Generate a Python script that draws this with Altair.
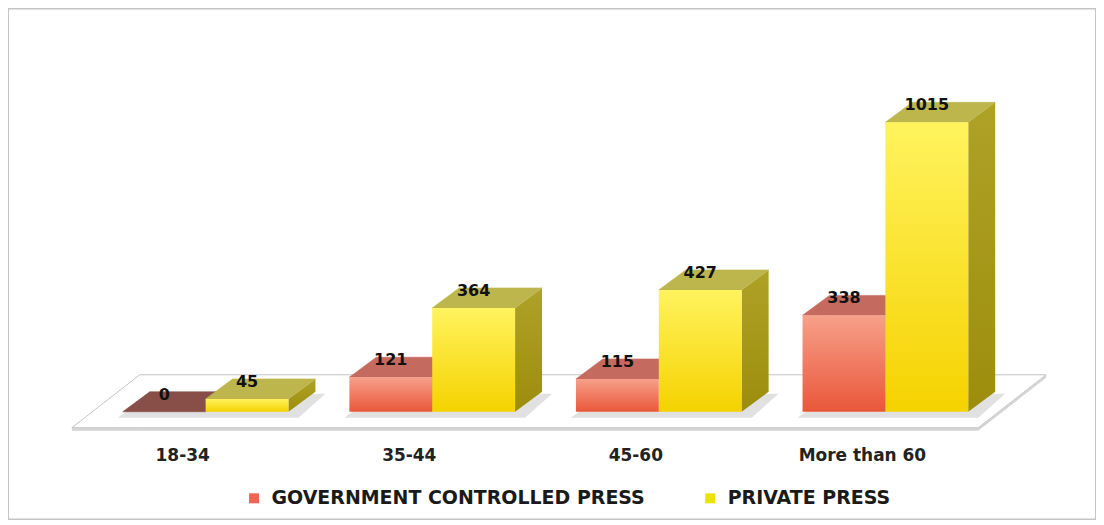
import altair as alt
import pandas as pd

# ---------------- data ----------------
categories = ["18-34", "35-44", "45-60", "More than 60"]
series = ["GOVERNMENT CONTROLLED PRESS", "PRIVATE PRESS"]
government = [0, 121, 115, 338]
private = [45, 364, 427, 1015]

# ---------------- layout (pixels) ----------------
W, H = 1090, 512
SLOT = 227.0      # px per category slot
X0 = 84.5         # px of left edge of slot 0
BASE = 404.0      # px of value 0
K = 0.2857        # px per value unit
BAR = 83.0        # bar width px
DPX, DPY = 27.0, 20.0   # 3D depth offset px

BWU = BAR / SLOT
DXU = DPX / SLOT
DYV = DPY / K


def px_x(px):
    return (px - X0) / SLOT


def px_y(py):
    return (BASE - py) / K


XS = alt.Scale(domain=[0, len(categories)], range=[X0, X0 + SLOT * len(categories)], nice=False, zero=False)
YS = alt.Scale(domain=[0, BASE / K], range=[BASE, 0], nice=False, zero=False)

# ---------------- tables ----------------
bars, tops, sides, shadows = [], [], [], []
for i, cat in enumerate(categories):
    c = i + 0.5
    for s_idx, (name, vals) in enumerate(zip(series, [government, private])):
        v = vals[i]
        xl = c - BWU if s_idx == 0 else c
        xr = c if s_idx == 0 else c + BWU
        bid = f"{i}-{s_idx}"
        bars.append(dict(bar=bid, series=name, cat=cat, value=v, zero=0,
                         xl=xl, xr=xr, xc=(xl + xr) / 2))
        if s_idx == 0:
            tf = "#874f48" if v == 0 else "#c56a5e"
        else:
            tf = "#bdb64c"
        for (xx, y1, y2) in [(xl, v, v), (xl + DXU, v + DYV, v),
                             (xr, v + DYV, v), (xr + DXU, v + DYV, v + DYV)]:
            tops.append(dict(bar=bid, series=name, x=xx, y=y1, y2=y2, fill=tf))
        for (xx, y1, y2) in [(xr, v, 0), (xr + DXU, v + DYV, DYV)]:
            sides.append(dict(bar=bid, series=name, x=xx, y=y1, y2=y2))
    # soft shadow under the group
    gl, gr = c - BWU, c + BWU
    o = 5.0 / SLOT
    lo = -6.0 / K
    hi = DYV - 2.0 / K
    for (xx, y1, y2) in [(gl - o, lo, lo), (gl + DXU, hi, lo),
                         (gr + 2 * o, hi, lo), (gr + DXU + 2 * o, hi, hi)]:
        shadows.append(dict(g=i, x=xx, y=y1, y2=y2))

bars_df = pd.DataFrame(bars)
tops_df = pd.DataFrame(tops)
sides_df = pd.DataFrame(sides)
shadow_df = pd.DataFrame(shadows)
cats_df = pd.DataFrame(dict(cat=categories, xc=[i + 0.5 for i in range(len(categories))]))

floor_df = pd.DataFrame(dict(
    x=[px_x(64), px_x(132), px_x(972), px_x(1040)],
    y=[px_y(420), px_y(367), px_y(367), px_y(367)],
    y2=[px_y(420), px_y(420), px_y(420), px_y(367)],
))
floor_edge_df = pd.DataFrame(dict(
    x=[px_x(64), px_x(972), px_x(1040)],
    y=[px_y(420), px_y(420), px_y(367)],
    y2=[px_y(423), px_y(423), px_y(370)],
))


def grad(c1, c2):
    return alt.Gradient(gradient="linear", x1=0, x2=0, y1=0, y2=1,
                        stops=[alt.GradientStop(color=c1, offset=0),
                               alt.GradientStop(color=c2, offset=1)])


def area_enc():
    return dict(x=alt.X("x:Q", scale=XS, axis=None),
                y=alt.Y("y:Q", scale=YS, axis=None, stack=None),
                y2="y2:Q")


floor = alt.Chart(floor_df).mark_area(fill="#ffffff", stroke="#c2c2c2", strokeWidth=1).encode(**area_enc())
floor_edge = alt.Chart(floor_edge_df).mark_area(fill="#d4d4d4").encode(**area_enc())
shadow = alt.Chart(shadow_df).mark_area(fill="#bcbcbc", opacity=0.45).encode(detail="g:N", **area_enc())


def faces(name, side_grad, front_grad):
    side = alt.Chart(sides_df[sides_df.series == name]).mark_area(
        fill=side_grad).encode(detail="bar:N", **area_enc())
    top = alt.Chart(tops_df[tops_df.series == name]).mark_area(strokeWidth=0.6).encode(
        detail="bar:N",
        fill=alt.Fill("fill:N", scale=None),
        stroke=alt.Stroke("fill:N", scale=None),
        **area_enc())
    front = alt.Chart(bars_df[bars_df.series == name]).mark_rect(fill=front_grad).encode(
        x=alt.X("xl:Q", scale=XS, axis=None), x2="xr:Q",
        y=alt.Y("value:Q", scale=YS, axis=None), y2="zero:Q")
    return [side, top, front]


gov_layers = faces(series[0], grad("#b8645a", "#a9564b"), grad("#f7a08a", "#e9573a"))
priv_layers = faces(series[1], grad("#aea227", "#9c8d0c"), grad("#fff35e", "#f5d200"))

value_labels = alt.Chart(bars_df).mark_text(
    font="DejaVu Sans", fontWeight="bold", fontSize=16, color="#111111",
    baseline="middle", align="center", dy=-17).encode(
    x=alt.X("xc:Q", scale=XS, axis=None),
    y=alt.Y("value:Q", scale=YS, axis=None),
    text=alt.Text("value:Q", format="d"))

cat_labels = alt.Chart(cats_df).mark_text(
    font="DejaVu Sans", fontWeight="bold", fontSize=17, color="#222222",
    baseline="middle", align="center", dx=-23).encode(
    x=alt.X("xc:Q", scale=XS, axis=None),
    y=alt.value(448),
    text="cat:N")

legend_layer = alt.Chart(pd.DataFrame(dict(series=series))).mark_point(
    filled=True, size=0, opacity=0).encode(
    color=alt.Color("series:N",
                    scale=alt.Scale(domain=series, range=["#ec6652", "#eae200"]),
                    legend=alt.Legend(title=None, orient="none", legendX=237, legendY=481,
                                      direction="horizontal", symbolType="square",
                                      symbolSize=100, symbolOpacity=1, symbolStrokeWidth=0,
                                      labelFont="DejaVu Sans", labelFontWeight="bold",
                                      labelFontSize=19, labelColor="#1a1a1a",
                                      labelOffset=8, columnPadding=55, labelLimit=600)))

chart = alt.layer(
    floor, floor_edge, shadow, *gov_layers, *priv_layers, value_labels, cat_labels, legend_layer
).properties(
    width=W, height=H, padding=0, autosize=alt.AutoSizeParams(type="none"),
    background="#ffffff"
).configure_view(stroke="#c4c4c4", strokeWidth=2)

chart.save("out.html", embed_options={"renderer": "svg", "actions": False})
